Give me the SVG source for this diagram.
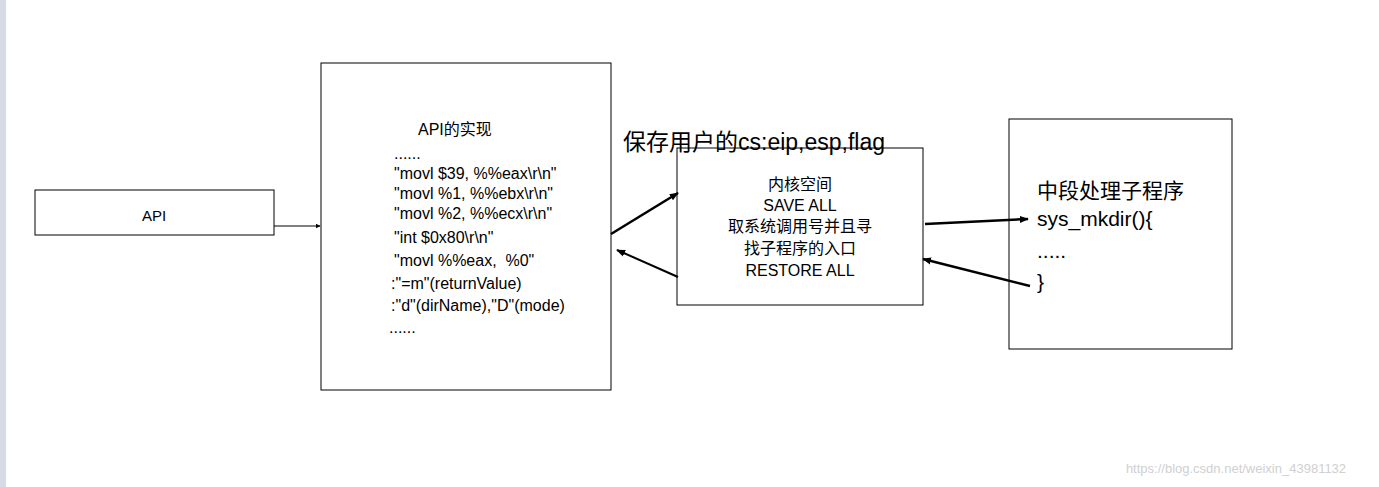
<svg xmlns="http://www.w3.org/2000/svg" width="1379" height="487" viewBox="0 0 1379 487">
<style>
.b{fill:#fff;stroke:#000;stroke-width:1}
text{font-family:"Liberation Sans","Noto Sans CJK SC",sans-serif;fill:#000}
.t{font-size:16px}
.c{text-anchor:middle}
</style>
<defs>
<marker id="a" viewBox="0 0 10 10" refX="9" refY="5" markerWidth="5" markerHeight="5" orient="auto"><path d="M0,0L10,5L0,10z" fill="#000"/></marker>
<marker id="s" viewBox="0 0 10 10" refX="9" refY="5" markerWidth="9" markerHeight="9" orient="auto" markerUnits="userSpaceOnUse"><path d="M0,1L10,5L0,9z" fill="#000"/></marker>
</defs>
<rect width="1379" height="487" fill="#fff"/>
<rect x="0" y="0" width="6" height="487" fill="#d6dbe6"/>
<g id="api"><rect class="b" x="35" y="190" width="239" height="45"/>
<text class="t c" x="154" y="222" style="font-size:15px"><tspan x="154" y="221">API</tspan></text>
<text class="t c" x="154" y="228" style="font-size:15px"><tspan x="154" y="227" dy="0"></tspan></text>
</g>
<g id="apiimpl"><rect class="b" x="321" y="63" width="290" height="327"/>
<text class="t" x="418" y="135">API的实现</text>
<text class="t" x="394" y="159">......</text>
<text class="t" x="394" y="179">"movl $39, %%eax\r\n"</text>
<text class="t" x="394" y="199">"movl %1, %%ebx\r\n"</text>
<text class="t" x="394" y="219">"movl %2, %%ecx\r\n"</text>
<text class="t" x="394" y="243">"int $0x80\r\n"</text>
<text class="t" x="394" y="266" xml:space="preserve">"movl %%eax,  %0"</text>
<text class="t" x="391" y="289">:"=m"(returnValue)</text>
<text class="t" x="391" y="311">:"d"(dirName),"D"(mode)</text>
<text class="t" x="389" y="333">......</text>
</g>
<g id="kernel"><rect class="b" x="677" y="148" width="246" height="157"/>
<text class="t c" x="800" y="190">内核空间</text>
<text class="t c" x="800" y="211">SAVE ALL</text>
<text class="t c" x="800" y="232">取系统调用号并且寻</text>
<text class="t c" x="800" y="254">找子程序的入口</text>
<text class="t c" x="800" y="276">RESTORE ALL</text>
</g>
<g id="handler"><rect class="b" x="1009" y="119" width="223" height="230"/>
<text x="1037" y="198" style="font-size:21px">中段处理子程序</text>
<text x="1037" y="226" style="font-size:21px">sys_mkdir(){</text>
<text x="1037" y="258" style="font-size:21px">.....</text>
<text x="1037" y="289" style="font-size:21px">}</text>
</g>
<text x="623" y="150" style="font-size:23px">保存用户的cs:eip,esp,flag</text>
<g id="api-text"><text class="c" x="154" y="244" style="font-size:15px"></text></g>
<g id="connectors" stroke="#000" fill="none">
<line x1="274" y1="226" x2="320" y2="226" stroke-width="1" marker-end="url(#a)"/>
<line x1="611" y1="234" x2="678" y2="193" stroke-width="2.5" marker-end="url(#s)"/>
<line x1="678" y1="277" x2="617" y2="250" stroke-width="2" marker-end="url(#s)"/>
<line x1="925" y1="224" x2="1028" y2="219" stroke-width="2.5" marker-end="url(#s)"/>
<line x1="1030" y1="286" x2="923" y2="259" stroke-width="2.5" marker-end="url(#s)"/>
</g>
<text x="1236" y="473" style="font-size:13px;fill:#d0d0d0" text-anchor="middle">https://blog.csdn.net/weixin_43981132</text>
</svg>
